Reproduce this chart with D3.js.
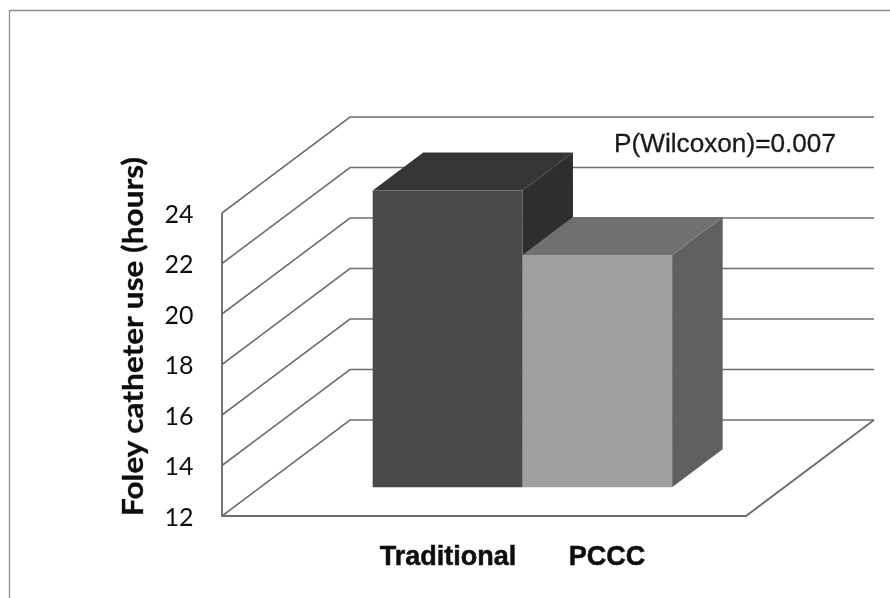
<!DOCTYPE html>
<html><head><meta charset="utf-8">
<script src="https://cdnjs.cloudflare.com/ajax/libs/d3/7.8.5/d3.min.js"></script>
<style>html,body{margin:0;padding:0;background:#fff}svg{display:block}</style>
</head><body><svg id="c" width="890" height="598"></svg>
<script>
const categories = ["Traditional", "PCCC"];
const values = [23.75, 21.2];
const tickValues = [12, 14, 16, 18, 20, 22, 24];
const yTitle = "Foley catheter use (hours)";
const note = "P(Wilcoxon)=0.007";
const frontColors = ["#4a4a4a", "#a0a0a0"];
const topColors = ["#363636", "#707070"];
const sideColors = ["#2d2d2d", "#606060"];

const svg = d3.select("#c");
const defs = svg.append("defs");
defs.append("filter").attr("id","soft").attr("x","-5%").attr("y","-5%").attr("width","110%").attr("height","110%")
  .append("feGaussianBlur").attr("stdDeviation",0.55);
const g = svg.append("g").attr("filter","url(#soft)");

// frame
g.append("path").attr("d","M9.5 598V10.5H890").attr("fill","none").attr("stroke","#8f8f8f").attr("stroke-width",1.3);

const y = d3.scaleLinear().domain([12,24]).range([516,213]);
const x = d3.scaleBand().domain(categories).range([222,746]).paddingInner(0).paddingOuter(0.75);
const wallDX = 128, wallDY = -96;   // full depth of the 3D floor
const barNear = 0.3, barFar = 0.695; // bar depth as fraction of floor
const px = (xv,d)=>xv+wallDX*d, py=(yv,d)=>yv+wallDY*d;
const stroke = "#6e6e6e";

// gridlines with side wall and back wall
tickValues.forEach(t=>{
  g.append("path").attr("fill","none").attr("stroke",stroke).attr("stroke-width",1.6)
   .attr("d",`M${px(222,0)} ${py(y(t),0)}L${px(222,1)} ${py(y(t),1)}H${px(746,1)}`);
});
g.append("path").attr("fill","none").attr("stroke",stroke).attr("stroke-width",1.9)
 .attr("d",`M222 ${y(24)}V${y(12)}H746L${px(746,1)} ${py(y(12),1)}`);

// bars
categories.forEach((c,i)=>{
  const x0=x(c), x1=x0+x.bandwidth(), yt=y(values[i]), yb=y(12);
  const P=(a,b,d)=>[px(a,d),py(b,d)];
  const poly=(pts,f)=>g.append("polygon").attr("points",pts.map(p=>p.join(",")).join(" ")).attr("fill",f);
  poly([P(x1,yt,barNear),P(x1,yt,barFar),P(x1,yb,barFar),P(x1,yb,barNear)],sideColors[i]);
  poly([P(x0,yt,barNear),P(x0,yt,barFar),P(x1,yt,barFar),P(x1,yt,barNear)],topColors[i]);
  poly([P(x0,yt,barNear),P(x1,yt,barNear),P(x1,yb,barNear),P(x0,yb,barNear)],frontColors[i]);
});

// tick labels
g.selectAll(".tick").data(tickValues).join("text").attr("class","tick")
  .attr("x",193.5).attr("y",d=>y(d)+9.5).attr("text-anchor","end")
  .attr("font-family","Lato, 'Open Sans', sans-serif").attr("font-size",25).attr("fill","#111")
  .text(d=>d);
g.append("text").attr("transform","translate(143,336.5) rotate(-90)").attr("text-anchor","middle")
  .attr("font-family","Lato, 'Open Sans', sans-serif").attr("font-weight",700).attr("font-size",29).attr("fill","#111")
  .attr("stroke","#111").attr("stroke-width",0.3)
  .attr("textLength",359).attr("lengthAdjust","spacingAndGlyphs")
  .text(yTitle);
const labelX = [448, 607];
g.selectAll(".cat").data(categories).join("text").attr("class","cat")
  .attr("x",(d,i)=>labelX[i]).attr("y",565).attr("text-anchor","middle")
  .attr("font-family","'Liberation Sans', Arial, sans-serif").attr("font-weight",700).attr("font-size",27).attr("fill","#0d0d0d")
  .attr("stroke","#0d0d0d").attr("stroke-width",0.5)
  .text(d=>d);
g.append("text").attr("x",614).attr("y",152)
  .attr("font-family","'Liberation Sans', Arial, sans-serif").attr("font-size",26).attr("fill","#1a1a1a")
  .attr("stroke","#1a1a1a").attr("stroke-width",0.3)
  .attr("textLength",222).attr("lengthAdjust","spacingAndGlyphs").text(note);
</script></body></html>
